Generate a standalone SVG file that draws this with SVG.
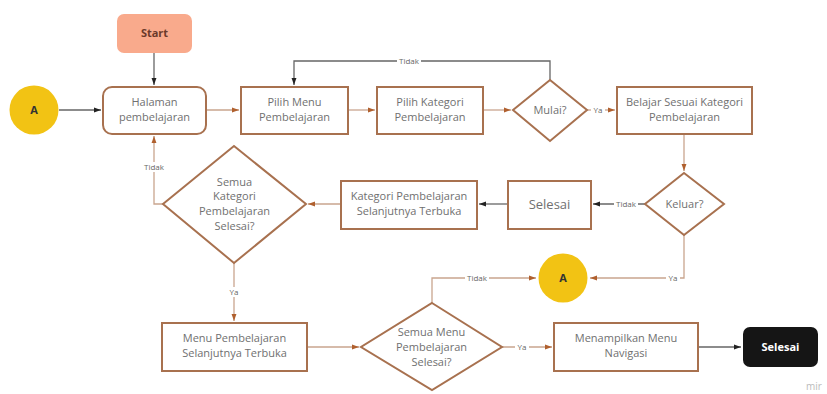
<svg xmlns="http://www.w3.org/2000/svg" width="827" height="394" viewBox="0 0 827 394">
<style>
.box{fill:#fff;stroke:#a8714f;stroke-width:2}
.t{font-family:"Open Sans","Liberation Sans",sans-serif;font-size:11px;fill:#707070;text-anchor:middle}
.lbl{font-family:"Open Sans","Liberation Sans",sans-serif;font-size:8px;fill:#666;text-anchor:middle}
.lb{fill:#fff}
.cb{fill:none;stroke:#c9a58e;stroke-width:1.3}
.cg{fill:none;stroke:#666;stroke-width:1.3}
.bold{font-family:"Open Sans","Liberation Sans",sans-serif;font-weight:bold;font-size:11px;text-anchor:middle}
</style>
<defs>
<marker id="ab" viewBox="0 0 10 10" refX="10" refY="5" markerWidth="7" markerHeight="7" orient="auto" markerUnits="userSpaceOnUse"><path d="M0,1.5 L10,5 L0,8.5 Z" fill="#b0602e"/></marker>
<marker id="ak" viewBox="0 0 10 10" refX="10" refY="5" markerWidth="7" markerHeight="7" orient="auto" markerUnits="userSpaceOnUse"><path d="M0,1.5 L10,5 L0,8.5 Z" fill="#222"/></marker>
</defs>
<rect width="827" height="394" fill="#fff"/>
<g id="connectors">
<path class="cg" d="M154,34 L154,85" marker-end="url(#ak)"/>
<path class="cg" d="M59,110 L101,110" marker-end="url(#ak)"/>
<path class="cb" d="M206,110 L239,110" marker-end="url(#ab)"/>
<path class="cb" d="M348,110 L375,110" marker-end="url(#ab)"/>
<path class="cb" d="M483,110 L511,110" marker-end="url(#ab)"/>
<path class="cb" d="M587,110 L615,110" marker-end="url(#ab)"/>
<path class="cg" d="M550,80 L550,61 L294,61 L294,85" marker-end="url(#ak)"/>
<path class="cb" d="M684,134 L684,171" marker-end="url(#ab)"/>
<path class="cg" d="M645,204 L593,204" marker-end="url(#ak)"/>
<path class="cg" d="M508,204 L479,204" marker-end="url(#ak)"/>
<path class="cb" d="M341,204 L308,204" marker-end="url(#ab)"/>
<path class="cb" d="M163,204 L154,204 L154,136" marker-end="url(#ab)"/>
<path class="cb" d="M234,263 L234,321" marker-end="url(#ab)"/>
<path class="cb" d="M307,347 L359,347" marker-end="url(#ab)"/>
<path class="cb" d="M432,303 L432,278 L536,278" marker-end="url(#ab)"/>
<path class="cb" d="M684,235 L684,278 L590,278" marker-end="url(#ab)"/>
<path class="cb" d="M502,347 L552,347" marker-end="url(#ab)"/>
<path class="cg" d="M698,347 L741,347" marker-end="url(#ak)"/>
<rect class="lb" x="397" y="56" width="24" height="10"/><text class="lbl" x="409" y="64">Tidak</text>
<rect class="lb" x="591" y="105" width="14" height="10"/><text class="lbl" x="598" y="113">Ya</text>
<rect class="lb" x="614" y="199" width="24" height="10"/><text class="lbl" x="626" y="207">Tidak</text>
<rect class="lb" x="142" y="162" width="24" height="10"/><text class="lbl" x="154" y="170">Tidak</text>
<rect class="lb" x="227" y="287" width="14" height="10"/><text class="lbl" x="234" y="295">Ya</text>
<rect class="lb" x="465" y="273" width="24" height="10"/><text class="lbl" x="477" y="281">Tidak</text>
<rect class="lb" x="666" y="273" width="14" height="10"/><text class="lbl" x="673" y="281">Ya</text>
<rect class="lb" x="515" y="342" width="14" height="10"/><text class="lbl" x="522" y="350">Ya</text>
</g>
<g id="start"><rect x="117" y="14" width="75" height="39" rx="7" fill="#f9aa8c"/><text class="bold" x="154.5" y="37" fill="#6b3a2a">Start</text></g>
<g id="a1"><circle cx="34" cy="110" r="24.5" fill="#f2c314"/><text class="bold" x="34" y="114" fill="#333">A</text></g>
<g id="halaman"><rect class="box" x="103" y="87" width="103" height="47" rx="9"/><text class="t" x="154.5" y="106">Halaman</text><text class="t" x="154.5" y="121">pembelajaran</text></g>
<g id="pilihmenu"><rect class="box" x="241" y="87" width="107" height="47"/><text class="t" x="294.5" y="106">Pilih Menu</text><text class="t" x="294.5" y="121">Pembelajaran</text></g>
<g id="pilihkat"><rect class="box" x="377" y="87" width="106" height="47"/><text class="t" x="430" y="106">Pilih Kategori</text><text class="t" x="430" y="121">Pembelajaran</text></g>
<g id="mulai"><polygon class="box" points="550,80 587,110 550,141 513,110"/><text class="t" x="550" y="114">Mulai?</text></g>
<g id="belajar"><rect class="box" x="617" y="87" width="135" height="47"/><text class="t" x="684.5" y="106">Belajar Sesuai Kategori</text><text class="t" x="684.5" y="121">Pembelajaran</text></g>
<g id="keluar"><polygon class="box" points="684,173 724,204 684,235 645,204"/><text class="t" x="684.5" y="208">Keluar?</text></g>
<g id="selesai1"><rect class="box" x="508" y="181" width="83" height="48"/><text class="t" x="549.5" y="209" style="font-size:13px">Selesai</text></g>
<g id="katnext"><rect class="box" x="341" y="181" width="136" height="48"/><text class="t" x="409" y="200">Kategori Pembelajaran</text><text class="t" x="409" y="215">Selanjutnya Terbuka</text></g>
<g id="semuakat"><polygon class="box" points="234,146 306,204 234,263 163,204"/><text class="t" x="234.5" y="186">Semua</text><text class="t" x="234.5" y="200">Kategori</text><text class="t" x="234.5" y="215">Pembelajaran</text><text class="t" x="234.5" y="230">Selesai?</text></g>
<g id="menunext"><rect class="box" x="162" y="323" width="145" height="48"/><text class="t" x="234.5" y="342">Menu Pembelajaran</text><text class="t" x="234.5" y="357">Selanjutnya Terbuka</text></g>
<g id="semuamenu"><polygon class="box" points="432,303 502,347 432,390 361,347"/><text class="t" x="431.5" y="336">Semua Menu</text><text class="t" x="431.5" y="351">Pembelajaran</text><text class="t" x="431.5" y="366">Selesai?</text></g>
<g id="a2"><circle cx="563" cy="278" r="24.5" fill="#f2c314"/><text class="bold" x="563" y="282" fill="#333">A</text></g>
<g id="menampilkan"><rect class="box" x="554" y="323" width="144" height="48"/><text class="t" x="626" y="342">Menampilkan Menu</text><text class="t" x="626" y="357">Navigasi</text></g>
<g id="selesai2"><rect x="743" y="327" width="75" height="40" rx="7" fill="#151515"/><text class="bold" x="780.5" y="351" fill="#fff">Selesai</text></g>
<text x="806" y="390" font-family="Open Sans, Liberation Sans, sans-serif" font-size="10" fill="#bbb">mir</text>
</svg>
